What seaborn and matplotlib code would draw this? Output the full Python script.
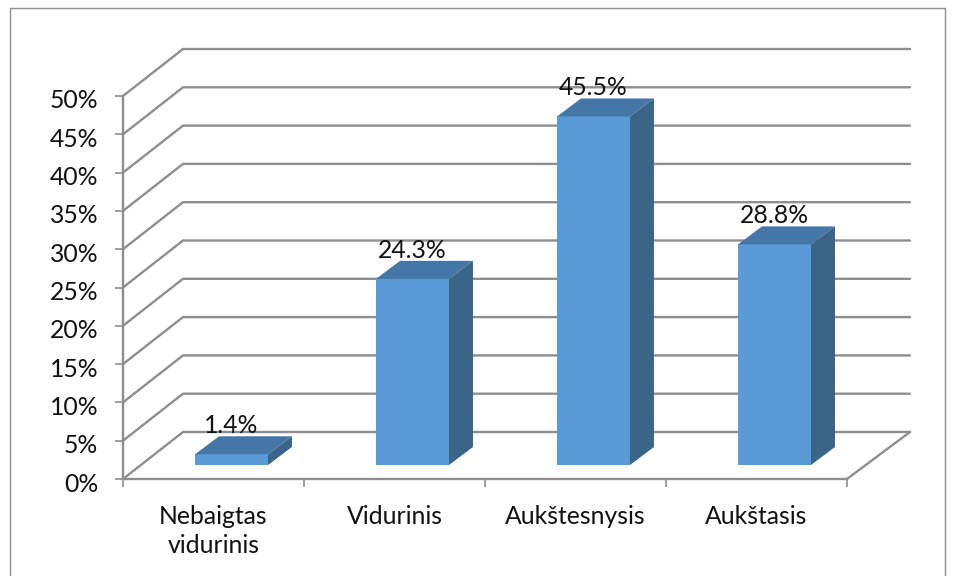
import matplotlib
matplotlib.use("Agg")
import matplotlib.pyplot as plt
from matplotlib.patches import Rectangle
from matplotlib.transforms import ScaledTranslation
import pandas as pd
import seaborn as sns

levels = ["Nebaigtas\nvidurinis", "Vidurinis", "Aukštesnysis", "Aukštasis"]
shares = [1.4, 24.3, 45.5, 28.8]
share_labels = ["1.4%", "24.3%", "45.5%", "28.8%"]
y_ticks = [0, 5, 10, 15, 20, 25, 30, 35, 40, 45, 50]

W, H = 957, 576
GRID = "#8e8e8e"
FRONT = "#5b9bd5"
TOP = "#4577a6"
SIDE = "#3a6488"
FONT_SIZE = 17.8

sns.set_style("white")
plt.rcParams["font.family"] = ["Lato", "DejaVu Sans"]

# pixels per unit on both axes
px_x = (847 - 123) / 4
px_y = (479 - 96) / 50

fig = plt.figure(figsize=(W / 100, H / 100), dpi=100)
fig.add_artist(Rectangle((10 / W, -0.01), 935 / W, 1.01 - 8 / H, transform=fig.transFigure,
                         fill=False, edgecolor="#8e8e8e", linewidth=1.0))

# walls and axis
ax = fig.add_axes([123 / W, 1 - 479 / H, 724 / W, 383 / H])
df = pd.DataFrame({"level": levels, "share": shares})
ax.set_xlim(-0.5, 3.5)
ax.set_ylim(0, 50)
for s in ["top", "right"]:
    ax.spines[s].set_visible(False)
for s in ["left", "bottom"]:
    ax.spines[s].set_color(GRID)
    ax.spines[s].set_linewidth(1.7)

dx = 60 / px_x
dx_right = 63 / px_x
dy = 47 / px_y
for v in y_ticks:
    ax.plot([-0.5, -0.5 + dx, 3.5 + dx_right], [v, v + dy, v + dy], color=GRID, lw=1.7,
            clip_on=False, solid_joinstyle="miter", zorder=1)
ax.plot([3.5, 3.5 + dx_right], [0, dy], color=GRID, lw=1.7, clip_on=False, zorder=1)

ax.set_yticks(y_ticks)
ax.set_yticklabels([f"{v}%" for v in y_ticks], fontsize=FONT_SIZE, color="#111111")
ax.set_xticks([-0.5, 0.5, 1.5, 2.5, 3.5])
ax.set_xticklabels([])
ax.set_xticks([0, 1, 2, 3], minor=True)
ax.set_xticklabels(levels, minor=True, fontsize=FONT_SIZE, color="#111111", linespacing=1.32)
ax.tick_params(axis="y", which="major", left=True, length=5.8, width=1.2, color=GRID, pad=12)
ax.tick_params(axis="x", which="major", bottom=True, length=5.8, width=1.2, color=GRID)
ax.tick_params(axis="x", which="minor", bottom=False, length=0, pad=19)
# y labels sit a little under their ticks
for label in ax.get_yticklabels():
    label.set_transform(label.get_transform() + ScaledTranslation(0, -3 / 100, fig.dpi_scale_trans))

# bars sit inside the floor, so they get their own shifted axes
bar_ax = fig.add_axes([(123 + 18) / W, 1 - (479 - 14) / H, 724 / W, 383 / H])
bar_ax.patch.set_alpha(0)
sns.barplot(data=df, x="level", y="share", ax=bar_ax, color=FRONT, saturation=1, width=0.403,
            linewidth=0)
bar_ax.set_xlim(-0.5, 3.5)
bar_ax.set_ylim(0, 50)
bar_ax.set_axis_off()

half = 0.403 / 2
bx = 24 / px_x
by = 18 / px_y
for i, v in enumerate(shares):
    bar_ax.fill([i - half, i + half, i + half + bx, i - half + bx],
                [v, v, v + by, v + by], color=TOP, lw=0, clip_on=False)
    bar_ax.fill([i + half, i + half + bx, i + half + bx, i + half],
                [0, by, v + by, v], color=SIDE, lw=0, clip_on=False)
    bar_ax.annotate(share_labels[i], (i, v), xytext=(0, 20.5), textcoords="offset points",
                    ha="center", va="center", fontsize=FONT_SIZE, color="#111111", annotation_clip=False)

fig.savefig("out.png", dpi=100)
